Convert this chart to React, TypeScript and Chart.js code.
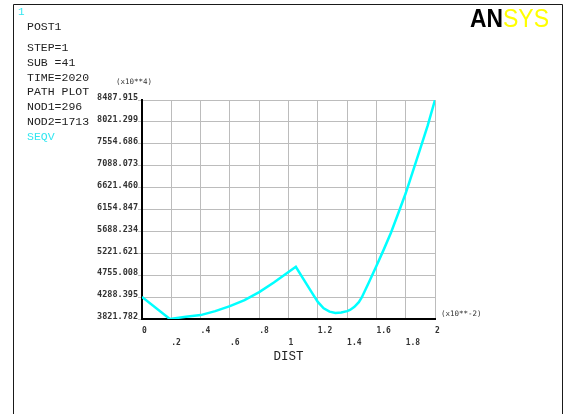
import React, { useEffect, useRef } from "react";
import { Chart, registerables } from "chart.js";

Chart.register(...registerables);

// Path distance (x10**-2) and SEQV values (x10**4)
const distValues = [0, 0.19, 0.3, 0.4, 0.5, 0.6, 0.7, 0.8, 0.9, 1.0, 1.05, 1.1, 1.15, 1.2, 1.24, 1.28, 1.32, 1.36, 1.4, 1.42, 1.45, 1.48, 1.5, 1.55, 1.6, 1.65, 1.7, 1.75, 1.8, 1.85, 1.9, 1.95, 2.0];
const seqvValues = [4290, 3822, 3870, 3905, 3990, 4095, 4225, 4395, 4600, 4825, 4935, 4680, 4430, 4185, 4050, 3978, 3950, 3960, 3990, 4015, 4080, 4180, 4280, 4610, 4950, 5300, 5665, 6080, 6500, 6980, 7457, 7940, 8488];

const yTicks = [3821.782, 4288.395, 4755.008, 5221.621, 5688.234, 6154.847, 6621.46, 7088.073, 7554.686, 8021.299, 8487.915];
const yTickLabels = ["3821.782", "4288.395", "4755.008", "5221.621", "5688.234", "6154.847", "6621.460", "7088.073", "7554.686", "8021.299", "8487.915"];
const xTicks = [0, 0.2, 0.4, 0.6, 0.8, 1, 1.2, 1.4, 1.6, 1.8, 2];
const xTickLabels = ["0", ".2", ".4", ".6", ".8", "1", "1.2", "1.4", "1.6", "1.8", "2"];

const infoLines = ["STEP=1", "SUB =41", "TIME=2020", "PATH PLOT", "NOD1=296", "NOD2=1713"];

const decorPlugin = {
  id: "ansysDecor",
  beforeDraw(chart: any) {
    const ctx = chart.ctx as CanvasRenderingContext2D;
    ctx.save();
    ctx.fillStyle = "#ffffff";
    ctx.fillRect(0, 0, chart.width, chart.height);
    ctx.strokeStyle = "#1a1a1a";
    ctx.lineWidth = 1;
    ctx.beginPath();
    ctx.moveTo(13.5, chart.height);
    ctx.lineTo(13.5, 4.5);
    ctx.lineTo(562.5, 4.5);
    ctx.lineTo(562.5, chart.height);
    ctx.stroke();
    ctx.restore();
  },
  afterDraw(chart: any) {
    const ctx = chart.ctx as CanvasRenderingContext2D;
    ctx.save();
    ctx.textBaseline = "middle";
    ctx.textAlign = "left";
    // window number
    ctx.fillStyle = "#33e6f0";
    ctx.font = "11px 'Liberation Mono'";
    ctx.fillText("1", 18, 12.5);
    // info block
    ctx.fillStyle = "#222222";
    ctx.font = "11.5px 'Liberation Mono'";
    ctx.fillText("POST1", 27, 27);
    infoLines.forEach((t, i) => ctx.fillText(t, 27, 48 + i * 14.75));
    ctx.fillStyle = "#33e6f0";
    ctx.fillText("SEQV", 27, 48 + 6 * 14.75);
    // multipliers
    ctx.fillStyle = "#333333";
    ctx.font = "7.5px 'DejaVu Sans Mono'";
    ctx.textAlign = "center";
    ctx.fillText("(x10**4)", 134, 82);
    ctx.textAlign = "left";
    ctx.fillText("(x10**-2)", 441, 314);
    // logo
    ctx.textBaseline = "alphabetic";
    ctx.fillStyle = "#000000";
    ctx.font = "bold 25px 'Liberation Sans'";
    ctx.fillText("AN", 470, 27, 33);
    ctx.fillStyle = "#ffff00";
    ctx.font = "25px 'Liberation Sans'";
    ctx.fillText("SYS", 503, 27, 46);
    ctx.restore();
  },
};

export default function App() {
  const ref = useRef<HTMLCanvasElement | null>(null);
  useEffect(() => {
    if (!ref.current) return;
    const gridColor = "#bcbcbc";
    const chart = new Chart(ref.current, {
      type: "line",
      data: {
        datasets: [
          {
            label: "SEQV",
            data: distValues.map((x, i) => ({ x, y: seqvValues[i] })),
            borderColor: "#00ffff",
            borderWidth: 2.5,
            pointRadius: 0,
            tension: 0,
            fill: false,
          },
        ],
      },
      options: {
        animation: false,
        responsive: false,
        devicePixelRatio: 1,
        layout: { padding: { left: 0, right: 128, top: 100, bottom: 0 } },
        plugins: { legend: { display: false }, tooltip: { enabled: false } },
        scales: {
          x: {
            type: "linear",
            min: 0,
            max: 2,
            afterFit: (s: any) => { s.height = 95; },
            afterBuildTicks: (s: any) => { s.ticks = xTicks.map((v) => ({ value: v })); },
            grid: { color: gridColor, lineWidth: 1, drawTicks: false },
            border: { display: true, color: "#000000", width: 2 },
            ticks: {
              align: "start",
              padding: 6,
              autoSkip: false,
              maxRotation: 0,
              color: "#333333",
              font: { family: "'DejaVu Sans Mono'", size: 8, weight: "bold", lineHeight: 1.5 },
              callback: (_v: any, i: number) => (i % 2 ? ["", xTickLabels[i]] : xTickLabels[i]),
            },
            title: {
              display: true,
              text: "DIST",
              color: "#222222",
              font: { family: "'Liberation Mono'", size: 12.5, lineHeight: 1.2 },
              padding: { top: 0, bottom: 50 },
            },
          },
          y: {
            type: "linear",
            min: 3821.782,
            max: 8487.915,
            afterFit: (s: any) => { s.width = 142; },
            afterBuildTicks: (s: any) => { s.ticks = yTicks.map((v) => ({ value: v })); },
            grid: { color: gridColor, lineWidth: 1, drawTicks: true, tickLength: 4 },
            border: { display: true, color: "#000000", width: 2 },
            ticks: {
              padding: 0,
              labelOffset: -2,
              autoSkip: false,
              color: "#333333",
              font: { family: "'DejaVu Sans Mono'", size: 8.5, weight: "bold" },
              callback: (_v: any, i: number) => yTickLabels[i],
            },
          },
        },
      },
      plugins: [decorPlugin],
    } as any);
    return () => chart.destroy();
  }, []);
  return (
    <div style={{ position: "absolute", left: 0, top: 0, width: 563, height: 414 }}>
      <canvas ref={ref} width={563} height={414} style={{ display: "block" }} />
    </div>
  );
}
